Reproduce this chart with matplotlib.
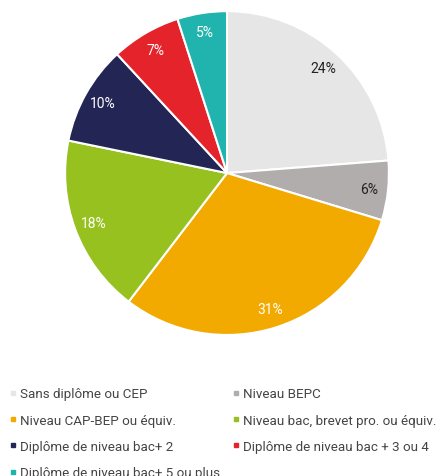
import numpy as np
import matplotlib.pyplot as plt
from matplotlib.lines import Line2D

plt.rcParams['font.family'] = ['Roboto', 'DejaVu Sans']

categories = ['Sans diplôme ou CEP', 'Niveau BEPC', 'Niveau CAP-BEP ou équiv.',
              'Niveau bac, brevet pro. ou équiv.', 'Diplôme de niveau bac+ 2',
              'Diplôme de niveau bac + 3 ou 4', 'Diplôme de niveau bac+ 5 ou plus']
values = [24, 6, 31, 18, 10, 7, 5]
colors = ['#e6e6e6', '#b1adac', '#f2a900', '#96c11f', '#232654', '#e4232b', '#21b4af']
label_colors = ['#222222', '#222222', 'white', 'white', 'white', 'white', 'white']

fig = plt.figure(figsize=(4.37, 4.77), dpi=100)
ax = fig.add_axes([0.149, 0.2956, 0.741, 0.679])

wedges, texts = ax.pie(values, colors=colors, startangle=90, counterclock=False,
                       wedgeprops=dict(edgecolor='white', linewidth=1.5))
ax.set_xlim(-1.0, 1.0)
ax.set_ylim(-1.0, 1.0)
ax.set_aspect('equal')

for w, v, c in zip(wedges, values, label_colors):
    ang = np.deg2rad((w.theta1 + w.theta2) / 2)
    r = 0.88
    ax.text(r * np.cos(ang), r * np.sin(ang), f'{v}%', ha='center', va='center',
            fontsize=10, color=c)

# legend, row by row in two columns
order = [0, 2, 4, 6, 1, 3, 5]
handles = [Line2D([], [], marker='s', linestyle='none', markersize=3.5,
                  markerfacecolor=colors[i], markeredgecolor=colors[i]) for i in order]
fig.legend(handles, [categories[i] for i in order], ncol=2, frameon=False,
           loc='upper left', bbox_to_anchor=(-0.005, 0.211), fontsize=9.6,
           handlelength=0.5, handletextpad=0.3, columnspacing=0.9,
           labelspacing=1.0, labelcolor='#444444')

fig.savefig('out.png', dpi=100)
